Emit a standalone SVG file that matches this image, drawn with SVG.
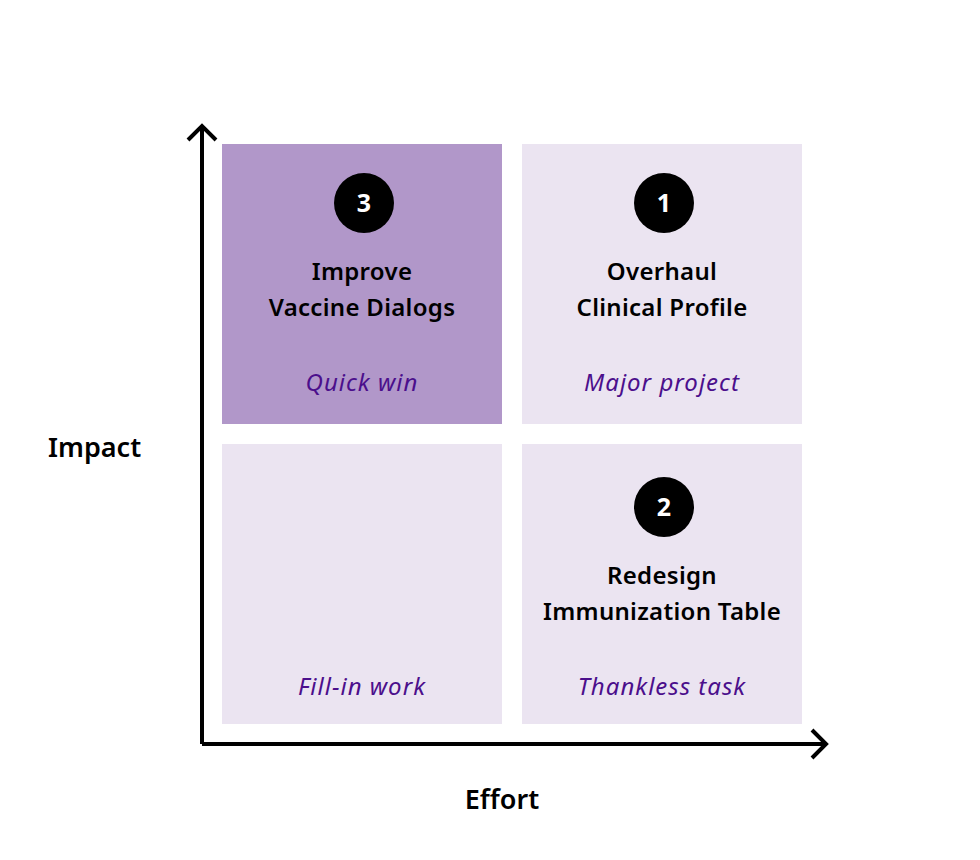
<svg xmlns="http://www.w3.org/2000/svg" width="980" height="860" viewBox="0 0 980 860">
<style>
.q{fill:#ebe4f1}
.qh{fill:#b197c9}
.t{font-family:"Noto Sans","Liberation Sans",sans-serif;font-size:24px;font-weight:600;letter-spacing:0.3px;fill:#000;text-anchor:middle}
.l{font-family:"Noto Sans","Liberation Sans",sans-serif;font-size:24px;font-style:italic;letter-spacing:1px;fill:#4b0f8c;text-anchor:middle}
.n{font-family:"Noto Sans","Liberation Sans",sans-serif;font-size:25px;font-weight:700;fill:#fff;text-anchor:middle}
.ax{font-family:"Noto Sans","Liberation Sans",sans-serif;font-size:27px;font-weight:600;fill:#000}
.a{stroke:#000;stroke-width:4;fill:none}
</style>
<rect width="980" height="860" fill="#fff"/>
<g id="q-quick-win">
<rect class="qh" x="222" y="144" width="280" height="280"/>
<circle cx="364" cy="203" r="30" fill="#000"/>
<text class="n" x="364" y="212">3</text>
<text class="t" x="362" y="280">Improve</text>
<text class="t" x="362" y="316">Vaccine Dialogs</text>
<text class="l" x="362" y="391">Quick win</text>
</g>
<g id="q-major-project">
<rect class="q" x="522" y="144" width="280" height="280"/>
<circle cx="664" cy="203" r="30" fill="#000"/>
<text class="n" x="664" y="212">1</text>
<text class="t" x="662" y="280">Overhaul</text>
<text class="t" x="662" y="316">Clinical Profile</text>
<text class="l" x="662" y="391">Major project</text>
</g>
<g id="q-fill-in">
<rect class="q" x="222" y="444" width="280" height="280"/>
<text class="l" x="362" y="695">Fill-in work</text>
</g>
<g id="q-thankless">
<rect class="q" x="522" y="444" width="280" height="280"/>
<circle cx="664" cy="507" r="30" fill="#000"/>
<text class="n" x="664" y="516">2</text>
<text class="t" x="662" y="584">Redesign</text>
<text class="t" x="662" y="620">Immunization Table</text>
<text class="l" x="662" y="695">Thankless task</text>
</g>
<g id="axes">
<path class="a" d="M202 744 V127 M188 140 L202 126 L216 140"/>
<path class="a" d="M202 744 H825 M812 730 L826 744 L812 758"/>
<text class="ax" x="48" y="457">Impact</text>
<text class="ax" x="502" y="809" text-anchor="middle">Effort</text>
</g>
</svg>
